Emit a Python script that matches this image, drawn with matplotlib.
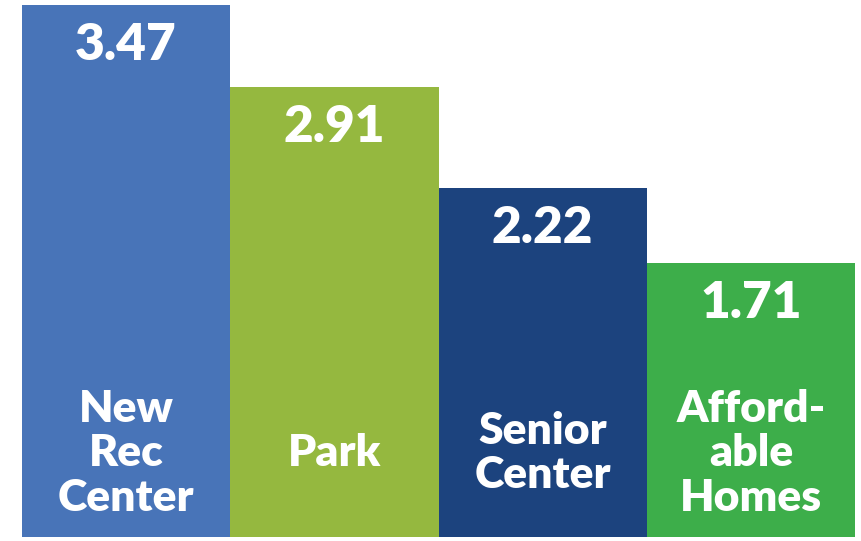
import numpy as np
import matplotlib.pyplot as plt

categories = ["New\nRec\nCenter", "Park", "Senior\nCenter", "Afford-\nable\nHomes"]
values = [3.47, 2.91, 2.22, 1.71]
value_labels = ["3.47", "2.91", "2.22", "1.71"]
colors = ["#4874B8", "#95B83F", "#1C437E", "#3DAE4A"]

base = -0.157   # bars run a bit below zero in the original
plt.rcParams['font.family'] = ['Lato', 'DejaVu Sans']

fig = plt.figure(figsize=(8.61, 5.41), dpi=100)
ax = fig.add_axes([22 / 861, 4 / 541, 833 / 861, 533 / 541])

x = np.arange(len(values))
vals = np.array(values)
ax.bar(x, vals - base, bottom=base, width=1.0, color=colors, edgecolor="none")

for xi, v, lab in zip(x, values, value_labels):
    ax.annotate(lab, (xi, v), xytext=(0, -28.5), textcoords="offset points",
                ha="center", va="center", color="white",
                fontsize=37, fontweight="heavy")

for xi, cat in zip(x, categories):
    ax.text(xi, 0.414, cat, ha="center", va="center", color="white",
            fontsize=32, fontweight="heavy", linespacing=1.13)

ax.set_xlim(-0.5, 3.5)
ax.set_ylim(base, 3.47 + 1 / 146.6)
ax.axis("off")

fig.savefig("out.png", dpi=100)
